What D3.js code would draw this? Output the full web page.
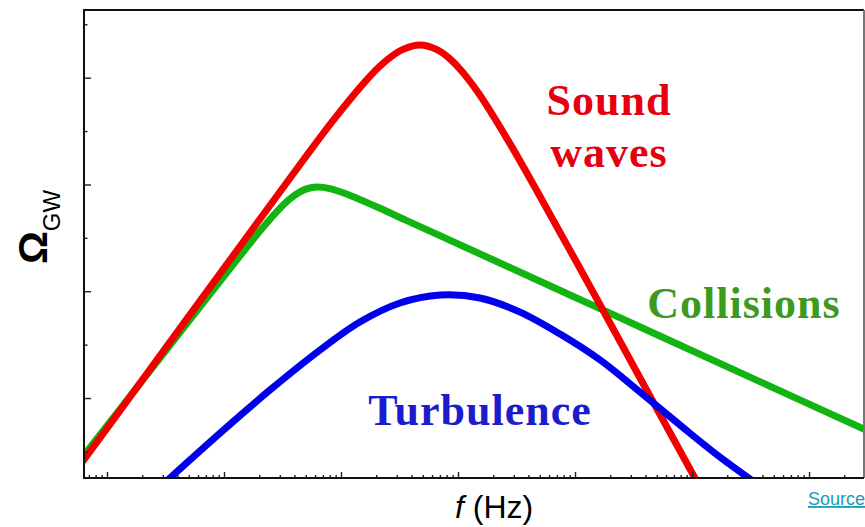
<!DOCTYPE html>
<html>
<head>
<meta charset="utf-8">
<script src="https://cdn.jsdelivr.net/npm/d3@7"></script>
<style>
  html, body { margin: 0; padding: 0; background: #ffffff; }
  svg { display: block; }
</style>
</head>
<body>
<svg id="chart" width="865" height="527"></svg>
<script>
// Gravitational-wave spectra from a first-order phase transition (log-log).
// Frequencies in Hz, energy density Omega_GW (dimensionless).

const soundF = [5.96e-6, 1.50e-5, 4.73e-5, 1.50e-4, 4.73e-4, 8.41e-4, 1.50e-3, 2.11e-3,
  2.66e-3, 3.35e-3, 4.73e-3, 6.68e-3, 8.41e-3, 1.06e-2, 1.50e-2, 2.66e-2, 4.73e-2, 0.150, 0.473, 1.50];
const soundOmega = [5.77e-18, 9.14e-17, 2.88e-15, 9.10e-14, 2.81e-12, 1.50e-11, 7.10e-11, 1.58e-10,
  2.44e-10, 3.35e-10, 4.07e-10, 3.31e-10, 2.31e-10, 1.38e-10, 5.10e-11, 6.84e-12, 7.55e-13, 7.87e-15, 7.91e-17, 7.91e-19];

const collisionF = [5.05e-6, 2.01e-5, 6.35e-5, 1.13e-4, 2.01e-4, 2.84e-4, 3.57e-4, 4.50e-4,
  5.41e-4, 6.35e-4, 8.00e-4, 1.13e-3, 2.01e-3, 3.57e-3, 6.35e-3, 2.01e-2, 0.201, 2.01, 40.1];
const collisionOmega = [4.48e-18, 2.14e-16, 5.38e-15, 2.69e-14, 1.31e-13, 3.14e-13, 5.15e-13, 7.36e-13,
  8.59e-13, 8.93e-13, 8.38e-13, 6.55e-13, 3.82e-13, 2.15e-13, 1.21e-13, 3.84e-14, 3.84e-15, 3.84e-16, 1.92e-17];

const turbulenceF = [2.84e-5, 3.45e-5, 9.25e-5, 2.47e-4, 6.62e-4, 1.45e-3, 3.19e-3, 7.02e-3,
  1.54e-2, 3.39e-2, 7.45e-2, 0.164, 0.360, 0.789, 1.73, 3.81];
const turbulenceOmega = [2.15e-18, 3.18e-18, 2.21e-17, 1.41e-16, 7.93e-16, 2.65e-15, 6.01e-15, 8.49e-15,
  7.46e-15, 4.07e-15, 1.58e-15, 5.15e-16, 1.29e-16, 3.12e-17, 7.85e-18, 2.25e-18];

const xDomain = [6.36e-6, 29.5];
const yDomain = [3.18e-18, 1.85e-9];
const xMajorTicks = [1e-5, 1e-4, 1e-3, 1e-2, 1e-1, 1, 10];
const yMajorTicks = [1e-16, 1e-14, 1e-12, 1e-10];
const yMinorTicks = [1e-17, 1e-15, 1e-13, 1e-11, 1e-9];

const seriesNames = ["Collisions", "Sound waves", "Turbulence"];

// ---- layout ----
const svg = d3.select("#chart");
const plot = { left: 84, right: 864, top: 10, bottom: 478 };

const x = d3.scaleLog().domain(xDomain).range([plot.left, plot.right]);
const y = d3.scaleLog().domain(yDomain).range([plot.bottom, plot.top]);

// minor x ticks: 2..9 within each decade that falls in the domain
const xMinorTicks = [];
for (let e = -6; e <= 1; e++) {
  for (let m = 2; m <= 9; m++) {
    const v = m * Math.pow(10, e);
    if (v > xDomain[0] && v < xDomain[1]) xMinorTicks.push(v);
  }
}

svg.append("defs").append("clipPath").attr("id", "plot-clip")
  .append("rect")
  .attr("x", plot.left).attr("y", plot.top)
  .attr("width", plot.right - plot.left).attr("height", plot.bottom - plot.top);

// ---- curves ----
const series = [
  { name: seriesNames[0], f: collisionF, v: collisionOmega, color: "#12b412" },
  { name: seriesNames[1], f: soundF, v: soundOmega, color: "#f20000" },
  { name: seriesNames[2], f: turbulenceF, v: turbulenceOmega, color: "#0000ee" }
];

const line = d3.line()
  .x(d => x(d[0]))
  .y(d => y(d[1]))
  .curve(d3.curveCatmullRom.alpha(0.5));

svg.append("g").attr("clip-path", "url(#plot-clip)")
  .selectAll("path")
  .data(series)
  .join("path")
  .attr("d", s => line(d3.zip(s.f, s.v)))
  .attr("fill", "none")
  .attr("stroke", s => s.color)
  .attr("stroke-width", 7)
  .attr("stroke-linecap", "butt")
  .attr("stroke-linejoin", "round");

// ---- axes (ticks point inward) ----
function styleAxis(g) {
  g.select(".domain").remove();
  g.selectAll(".tick line").attr("stroke", "#222").attr("stroke-width", 1.4);
  g.selectAll(".tick text").remove();
}

svg.append("g").attr("transform", `translate(0,${plot.bottom})`)
  .call(d3.axisBottom(x).tickValues(xMajorTicks).tickSize(-6).tickFormat(""))
  .call(styleAxis);
svg.append("g").attr("transform", `translate(0,${plot.bottom})`)
  .call(d3.axisBottom(x).tickValues(xMinorTicks).tickSize(-3).tickFormat(""))
  .call(styleAxis);
svg.append("g").attr("transform", `translate(${plot.left},0)`)
  .call(d3.axisLeft(y).tickValues(yMajorTicks).tickSize(-7).tickFormat(""))
  .call(styleAxis);
svg.append("g").attr("transform", `translate(${plot.left},0)`)
  .call(d3.axisLeft(y).tickValues(yMinorTicks).tickSize(-3.5).tickFormat(""))
  .call(styleAxis);

// frame
const frame = svg.append("g").attr("fill", "none");
frame.append("line").attr("x1", plot.left).attr("x2", plot.right)
  .attr("y1", plot.top).attr("y2", plot.top).attr("stroke", "#111").attr("stroke-width", 2);
frame.append("line").attr("x1", plot.right).attr("x2", plot.right)
  .attr("y1", plot.top).attr("y2", plot.bottom).attr("stroke", "#777").attr("stroke-width", 2);
frame.append("line").attr("x1", plot.left).attr("x2", plot.left)
  .attr("y1", plot.top - 1).attr("y2", plot.bottom + 1).attr("stroke", "#111").attr("stroke-width", 2);
frame.append("line").attr("x1", plot.left - 1).attr("x2", plot.right)
  .attr("y1", plot.bottom).attr("y2", plot.bottom).attr("stroke", "#111").attr("stroke-width", 2);

// ---- curve labels ----
const labelFont = "'Liberation Serif', 'Times New Roman', serif";
const labels = [
  { lines: ["Sound", "waves"], x: 609, y: 115, dy: 52, color: "#e6000f" },
  { lines: ["Collisions"], x: 744, y: 318, dy: 0, color: "#3c9a1e" },
  { lines: ["Turbulence"], x: 480, y: 425, dy: 0, color: "#1c1ccc" }
];
labels.forEach(l => {
  const t = svg.append("text")
    .attr("x", l.x).attr("y", l.y)
    .attr("text-anchor", "middle")
    .attr("font-family", labelFont)
    .attr("font-weight", "bold")
    .attr("font-size", 44)
    .attr("letter-spacing", 1)
    .attr("fill", l.color);
  l.lines.forEach((s, i) => {
    t.append("tspan").attr("x", l.x).attr("dy", i === 0 ? 0 : l.dy).text(s);
  });
});

// ---- axis titles ----
const sans = "'Liberation Sans', Arial, sans-serif";
const yTitle = svg.append("text")
  .attr("transform", "translate(47,264) rotate(-90)")
  .attr("font-family", sans)
  .attr("fill", "#000");
yTitle.append("tspan").attr("font-size", 41).attr("font-weight", "bold").text("Ω");
yTitle.append("tspan").attr("font-size", 24).attr("dy", 13).text("GW");

const xTitle = svg.append("text")
  .attr("x", 455).attr("y", 518)
  .attr("font-family", sans)
  .attr("font-size", 32)
  .attr("fill", "#000");
xTitle.append("tspan").attr("font-style", "italic").text("f");
xTitle.append("tspan").text(" (Hz)");

svg.append("text")
  .attr("x", 865).attr("y", 505)
  .attr("text-anchor", "end")
  .attr("font-family", sans)
  .attr("font-size", 18)
  .attr("fill", "#1a9bb6")
  .attr("text-decoration", "underline")
  .text("Source");
</script>
</body>
</html>
